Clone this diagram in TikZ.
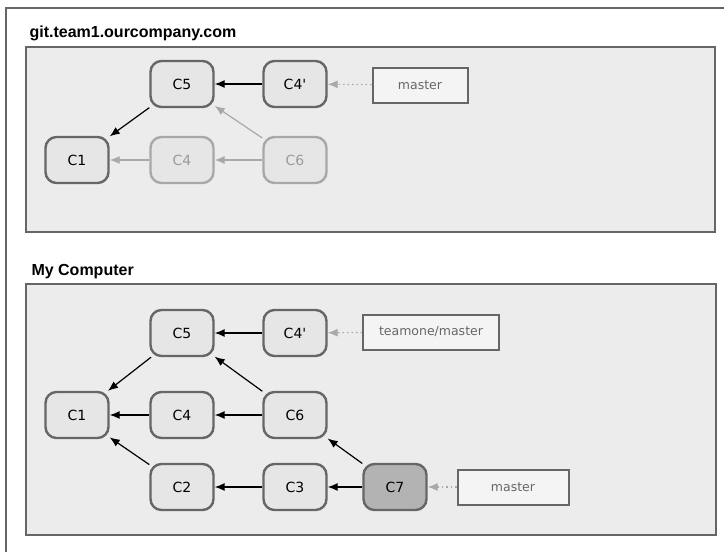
\documentclass[tikz,border=0pt]{standalone}
\usepackage{fontspec}
\setmainfont{DejaVu Sans}
\newfontfamily\titlefont{Liberation Sans}
\usetikzlibrary{arrows.meta}
\definecolor{panelfill}{HTML}{ECECEC}
\definecolor{edgegray}{HTML}{666666}
\definecolor{nodefill}{HTML}{E6E6E6}
\definecolor{fadegray}{HTML}{A8A8A8}
\definecolor{fadetext}{HTML}{9A9A9A}
\definecolor{darkfill}{HTML}{B3B3B3}
\begin{document}
\begin{tikzpicture}[x=1pt,y=-1pt,
  commit/.style={draw=edgegray,line width=2.4pt,fill=nodefill,rounded corners=11pt,
     minimum width=63pt,minimum height=46pt,inner sep=0pt,font=\fontsize{14}{16}\selectfont},
  faded/.style={commit,draw=fadegray,text=fadetext},
  darkc/.style={commit,fill=darkfill},
  refbox/.style={draw=edgegray,line width=2pt,fill=panelfill!60!white,minimum height=35pt,
     inner sep=0pt,text=edgegray,font=\fontsize{12.5}{14}\selectfont},
  panel/.style={draw=edgegray,line width=2pt,fill=panelfill},
  par/.style={-{Latex[length=10pt,width=8pt]},line width=1.2pt,black},
  fpar/.style={par,fadegray},
  refarr/.style={-{Latex[length=10pt,width=8pt]},line width=1.2pt,fadegray,dash pattern=on 1.5pt off 3pt},
  title/.style={anchor=base west,font=\titlefont\bfseries\fontsize{16}{18}\selectfont}
]
\useasboundingbox (0,0) rectangle (724,552);
\fill[white] (0,0) rectangle (724,552);
\draw[edgegray,line width=1.5pt] (6,560) -- (6,8) -- (730,8);
% top panel
\node[title] (t1) at (26,37) {git.team1.ourcompany.com};
\draw[panel] (26,47) rectangle (715,232);
\node[commit] (a5) at (182,84) {C5};
\node[commit] (a4p) at (295,84) {C4\textquotesingle};
\node[refbox,minimum width=95pt] (am) at (420,85) {master};
\node[commit] (a1) at (77,160) {C1};
\node[faded] (a4) at (182,160) {C4};
\node[faded] (a6) at (295,160) {C6};
\draw[par] (a4p) -- (a5);
\draw[par] (a5) -- (a1);
\draw[fpar] (a6) -- (a5);
\draw[fpar] (a6) -- (a4);
\draw[fpar] (a4) -- (a1);
\draw[refarr] (am) -- (a4p);
% bottom panel
\node[title] (t2) at (28,275) {My Computer};
\draw[panel] (26,284) rectangle (716,535);
\node[commit] (b5) at (182,333) {C5};
\node[commit] (b4p) at (295,333) {C4\textquotesingle};
\node[refbox,minimum width=136pt] (bt) at (431,332) {teamone/master};
\node[commit] (b1) at (77,415) {C1};
\node[commit] (b4) at (182,415) {C4};
\node[commit] (b6) at (295,415) {C6};
\node[commit] (b2) at (182,487) {C2};
\node[commit] (b3) at (295,487) {C3};
\node[darkc] (b7) at (395,487) {C7};
\node[refbox,minimum width=111pt] (bm) at (513,487) {master};
\draw[par] (b4p) -- (b5);
\draw[par] (b5) -- (b1);
\draw[par] (b6) -- (b5);
\draw[par] (b6) -- (b4);
\draw[par] (b4) -- (b1);
\draw[par] (b2) -- (b1);
\draw[par] (b3) -- (b2);
\draw[par] (b7) -- (b3);
\draw[par] (b7) -- (b6);
\draw[refarr] (bt) -- (b4p);
\draw[refarr] (bm) -- (b7);
\end{tikzpicture}
\end{document}
